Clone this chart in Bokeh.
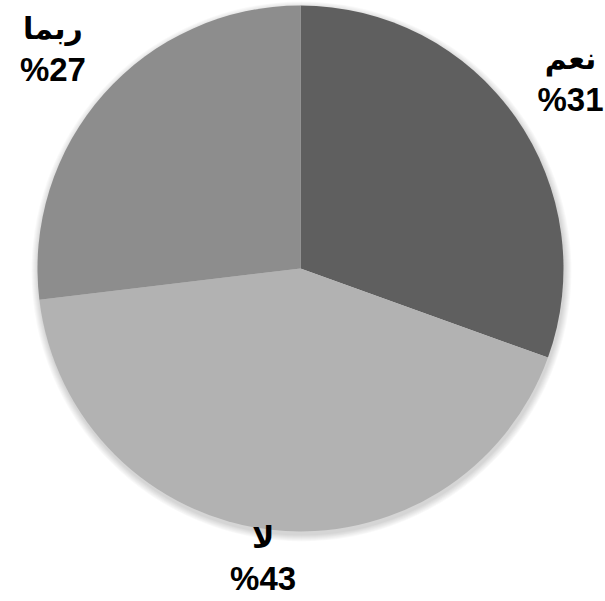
import math
from bokeh.plotting import figure
from bokeh.models import Range1d, ColumnDataSource
from bokeh.core.properties import value
from bokeh.embed import file_html
from bokeh.resources import INLINE

# Data
categories = ["نعم", "لا", "ربما"]
shares = [30.5, 42.6, 26.9]
pct_labels = ["%31", "%43", "%27"]
colors = ["#5f5f5f", "#b2b2b2", "#8d8d8d"]

W, H = 605, 601
R = 263
# data units == pixels, pie centre at origin
x0, x1 = -300, 305
y0, y1 = -333, 268

p = figure(width=W, height=H, x_range=Range1d(x0, x1), y_range=Range1d(y0, y1),
           output_backend="svg", toolbar_location=None, min_border=0)
p.axis.visible = False
p.grid.visible = False
p.outline_line_color = None
p.background_fill_color = "white"
p.border_fill_color = "white"

total = sum(shares)
starts, ends, mids = [], [], []
cum = 0.0
for s in shares:
    a0 = math.pi / 2 - 2 * math.pi * cum / total
    cum += s
    a1 = math.pi / 2 - 2 * math.pi * cum / total
    starts.append(a0)
    ends.append(a1)
    mids.append((a0 + a1) / 2)

# soft shadow halo
for k in range(1, 8):
    p.circle(x=[1], y=[-3], radius=R + k, fill_color="#000000", fill_alpha=0.025,
             line_color=None)

src = ColumnDataSource(dict(start=starts, end=ends, color=colors, cat=categories, pct=pct_labels))
p.wedge(x=0, y=0, radius=R, start_angle="start", end_angle="end", direction="clock",
        fill_color="color", line_color=None, source=src)

# label placement: outside the pie along the slice mid-angle, kept inside the frame
LR = 331
half_w, half_h = 35, 44
lx, ly = [], []
for m in mids:
    x = LR * math.cos(m)
    y = LR * math.sin(m)
    x = min(max(x, x0 + half_w), x1 - half_w)
    y = min(max(y, y0 + half_h), y1 - half_h)
    lx.append(x)
    ly.append(y)

lab = ColumnDataSource(dict(x=lx, yn=[v + 20 for v in ly], yp=[v - 21 for v in ly],
                            cat=categories, pct=pct_labels))
p.text(x="x", y="yn", text="cat", source=lab, text_font=value("DejaVu Sans"),
       text_font_style="bold", text_font_size="30px", text_align="center",
       text_baseline="middle", text_color="black")
p.text(x="x", y="yp", text="pct", source=lab, text_font=value("Liberation Sans"),
       text_font_style="bold", text_font_size="33px", text_align="center",
       text_baseline="middle", text_color="black")

open("out.html", "w").write(file_html(p, INLINE))
